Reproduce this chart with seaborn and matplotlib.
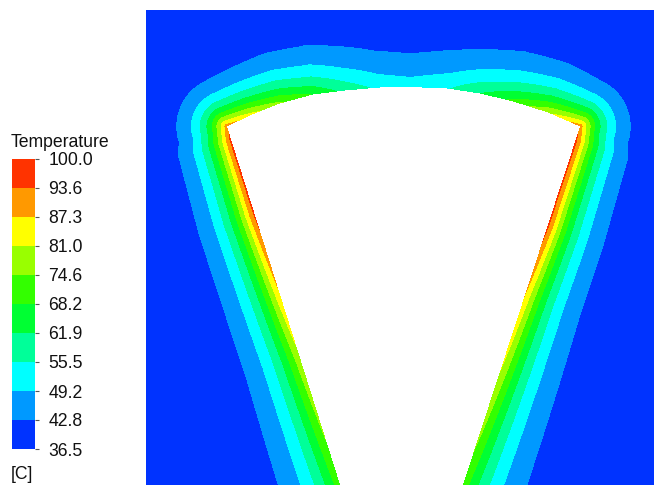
import numpy as np
import matplotlib
matplotlib.use("Agg")
import matplotlib.pyplot as plt
from matplotlib.colors import ListedColormap, BoundaryNorm
from matplotlib.path import Path
import seaborn as sns

# Contour levels of the temperature legend [C]
levels = [36.5, 42.8, 49.2, 55.5, 61.9, 68.2, 74.6, 81.0, 87.3, 93.6, 100.0]
band_colors = ['#0033ff', '#0099ff', '#00ffff', '#00ff99', '#00ff33',
               '#33ff00', '#99ff00', '#ffff00', '#ff9900', '#ff3300']

# Heated wall outline (domain units, y downward): left flank, arched top, right flank
wall_x = [346.3, 227, 250, 280, 313, 345, 380, 410, 447, 480, 513, 548, 580, 456.5]
wall_y = [505.0, 127, 116, 104, 95, 91, 88, 87.5, 89, 94, 102, 113, 127, 505.0]

# Wall stations: surface temperature and thermal decay length into the surroundings
station_x = [340, 300, 280, 255, 232, 227, 250, 280, 313, 345, 380, 410,
             447, 480, 513, 548, 580, 575, 555, 525, 463]
station_y = [485, 358, 295, 215, 140, 127, 116, 104, 95, 91, 88, 87.5,
             89, 94, 102, 113, 127, 140, 230, 295, 485]
wall_temp = [72, 80, 87, 95.5, 96, 91, 84, 76, 68, 60, 54, 52.5,
             55, 62, 70, 80, 91, 96, 95.5, 87.5, 72]
decay_len = [37, 32.5, 31, 29.5, 27.5, 26, 28, 31, 33, 35, 36, 36,
             36, 34, 33, 30, 26, 27.5, 29.5, 31, 38]
decay_shape = 1.15

# Domain extent
x_min, x_max = 146.0, 654.0
y_min, y_max = 9.5, 485.0

xs = np.arange(x_min, x_max) + 0.5
ys = np.arange(y_min, y_max) + 0.5
X, Y = np.meshgrid(xs, ys)

wx = np.asarray(wall_x, float)
wy = np.asarray(wall_y, float)
dx, dy = np.diff(wx), np.diff(wy)
seg_len = np.hypot(dx, dy)
cum_len = np.concatenate([[0.0], np.cumsum(seg_len)])


def nearest_on_wall(px, py):
    """Distance to the wall polyline and arc-length position of the closest point."""
    best_d = np.full(px.shape, np.inf)
    best_s = np.zeros(px.shape)
    for i in range(len(seg_len)):
        t = ((px - wx[i]) * dx[i] + (py - wy[i]) * dy[i]) / seg_len[i] ** 2
        t = np.clip(t, 0.0, 1.0)
        d = np.hypot(px - (wx[i] + t * dx[i]), py - (wy[i] + t * dy[i]))
        upd = d < best_d
        best_d[upd] = d[upd]
        best_s[upd] = cum_len[i] + t[upd] * seg_len[i]
    return best_d, best_s


dist, s_pos = nearest_on_wall(X, Y)
_, st_s = nearest_on_wall(np.asarray(station_x, float), np.asarray(station_y, float))
order = np.argsort(st_s)
tw = np.interp(s_pos, st_s[order], np.asarray(wall_temp, float)[order])
lw = np.interp(s_pos, st_s[order], np.asarray(decay_len, float)[order])

t_amb = levels[0]
temperature = t_amb + (tw - t_amb) * np.exp(-(dist / lw) ** decay_shape)

# Solid body (no fluid cells) is left blank
body = Path(np.column_stack([wx, wy]))
inside = body.contains_points(np.column_stack([X.ravel(), Y.ravel()])).reshape(X.shape)

sns.set_theme(style="white")
plt.rcParams['font.family'] = ['Liberation Sans', 'DejaVu Sans']

W, H = 654, 487
fig = plt.figure(figsize=(W / 100, H / 100), dpi=100)
fig.patch.set_facecolor('white')
ax = fig.add_axes([x_min / W, 1 - y_max / H, (x_max - x_min) / W, (y_max - y_min) / H])
cax = fig.add_axes([12 / W, 1 - 449 / H, 23 / W, 290 / H])

cmap = ListedColormap(band_colors)
norm = BoundaryNorm(levels, cmap.N, clip=True)

sns.heatmap(temperature, mask=inside, cmap=cmap, norm=norm, ax=ax,
            xticklabels=False, yticklabels=False,
            cbar=True, cbar_ax=cax,
            cbar_kws={'ticks': levels, 'format': '%.1f'})
ax.set_facecolor('white')
for sp in ax.spines.values():
    sp.set_visible(False)

cax.tick_params(axis='y', length=3, width=0.8, color='#555555', pad=6.5,
                labelsize=12.7, labelcolor='#111111', right=True)
cax.yaxis.set_ticks_position('right')

fig.text(11 / W, 1 - 147 / H, 'Temperature', fontsize=12.7, va='baseline',
         ha='left', color='#111111')
fig.text(11 / W, 1 - 479 / H, '[C]', fontsize=12.7, va='baseline',
         ha='left', color='#111111')

fig.savefig('out.png', dpi=100, facecolor='white')
